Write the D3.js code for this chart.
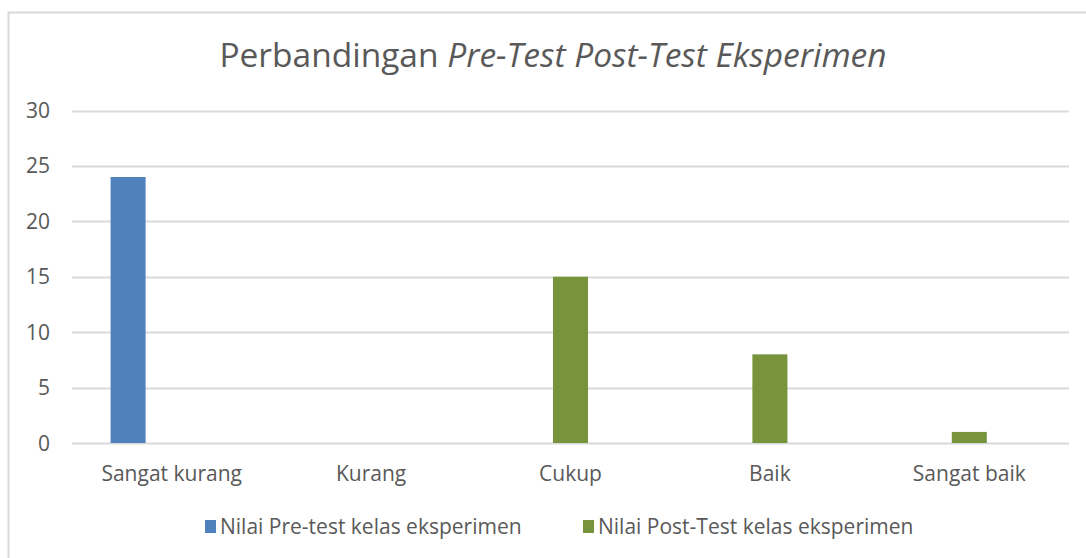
<!DOCTYPE html>
<html>
<head>
<meta charset="utf-8">
<script src="https://cdn.jsdelivr.net/npm/d3@7"></script>
<style>
  body { margin: 0; background: #fff; }
  text { font-family: "Open Sans", sans-serif; fill: #595959; }
</style>
</head>
<body>
<div id="chart"></div>
<script>
var categories = ["Sangat kurang", "Kurang", "Cukup", "Baik", "Sangat baik"];
var preTest = [24, 0, 0, 0, 0];
var postTest = [0, 0, 15, 8, 1];
var seriesNames = ["Nilai Pre-test kelas eksperimen", "Nilai Post-Test kelas eksperimen"];
var yTicks = [0, 5, 10, 15, 20, 25, 30];

var props = {
  width: 1086,
  height: 558,
  left: 72,
  right: 1069,
  top: 110.5,
  bottom: 443
};
var colors = ["#4f81bd", "#77933c"];

var svg = d3.select("#chart").append("svg")
  .attr("width", props.width)
  .attr("height", props.height);

// chart border
svg.append("rect")
  .attr("x", 8.5).attr("y", 12.5)
  .attr("width", 1100).attr("height", 600)
  .attr("fill", "none")
  .attr("stroke", "#d9d9d9")
  .attr("stroke-width", 2);

var x0 = d3.scaleBand().domain(categories).range([props.left, props.right]);
// third slot is an empty series in the original workbook, it keeps the bar spacing
var x1 = d3.scaleBand().domain(["pre", "post", "empty"]).range([0, x0.bandwidth()])
  .paddingInner(0.197).paddingOuter(0.885);
var y = d3.scaleLinear().domain([0, 30]).range([props.bottom, props.top]);

// gridlines
svg.append("g").selectAll("line")
  .data(yTicks)
  .enter()
  .append("line")
  .attr("x1", props.left).attr("x2", props.right)
  .attr("y1", function(d){ return Math.round(y(d)) + 0.5; })
  .attr("y2", function(d){ return Math.round(y(d)) + 0.5; })
  .style("stroke", "#d9d9d9")
  .style("stroke-width", 2);

// y labels
svg.append("g").selectAll("text")
  .data(yTicks)
  .enter()
  .append("text")
  .attr("x", 50)
  .attr("y", function(d){ return y(d); })
  .attr("dy", "0.36em")
  .attr("text-anchor", "end")
  .style("font-size", "21px")
  .text(function(d){ return d; });

// bars
var rows = categories.map(function(c, i){
  return [{cat: c, key: "pre", v: preTest[i]}, {cat: c, key: "post", v: postTest[i]}];
});
var barData = [].concat.apply([], rows).filter(function(d){ return d.v > 0; });

svg.append("g").selectAll("rect")
  .data(barData)
  .enter()
  .append("rect")
  .attr("x", function(d){ return x0(d.cat) + x1(d.key); })
  .attr("width", x1.bandwidth())
  .attr("y", function(d){ return y(d.v); })
  .attr("height", function(d){ return y(0) - y(d.v); })
  .attr("fill", function(d){ return d.key == "pre" ? colors[0] : colors[1]; });

// category labels
svg.append("g").selectAll("text")
  .data(categories)
  .enter()
  .append("text")
  .attr("x", function(d){ return x0(d) + x0.bandwidth() / 2; })
  .attr("y", 481)
  .attr("text-anchor", "middle")
  .style("font-size", "21px")
  .text(function(d){ return d; });

// title
var title = svg.append("text")
  .attr("x", 553)
  .attr("y", 67)
  .attr("text-anchor", "middle")
  .style("font-size", "33.5px");
title.append("tspan").text("Perbandingan ");
title.append("tspan").style("font-style", "italic").text("Pre-Test Post-Test Eksperimen");

// legend
var legendX = [205, 583];
var legend = svg.append("g").selectAll("g")
  .data(seriesNames)
  .enter()
  .append("g")
  .attr("transform", function(d, i){ return "translate(" + legendX[i] + ",0)"; });
legend.append("rect")
  .attr("x", 0).attr("y", 520)
  .attr("width", 11).attr("height", 13)
  .attr("fill", function(d, i){ return colors[i]; });
legend.append("text")
  .attr("x", 15)
  .attr("y", 534)
  .style("font-size", "21px")
  .text(function(d){ return d; });
</script>
</body>
</html>
